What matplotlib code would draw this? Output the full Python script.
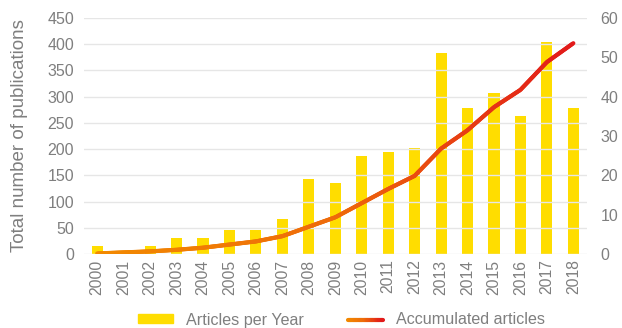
import numpy as np
import matplotlib
matplotlib.use("Agg")
import matplotlib.pyplot as plt
from matplotlib.collections import LineCollection
from matplotlib.colors import LinearSegmentedColormap
from matplotlib.legend_handler import HandlerBase
from matplotlib.lines import Line2D
from matplotlib.patches import Patch

plt.rcParams['font.family'] = ['Liberation Sans', 'DejaVu Sans']

years = ["2000", "2001", "2002", "2003", "2004", "2005", "2006", "2007", "2008", "2009",
         "2010", "2011", "2012", "2013", "2014", "2015", "2016", "2017", "2018"]
per_year = [2, 0, 2, 4, 4, 6, 6, 9, 19, 18, 25, 26, 27, 51, 37, 41, 35, 54, 37]
accumulated = [1, 3, 5, 8, 12, 18, 24, 34, 52, 70, 97, 124, 149, 201, 236, 280, 313, 366, 402]

grey = "#7f7f7f"
bar_color = "#ffdd00"
cmap = LinearSegmentedColormap.from_list("acc", ["#f28a00", "#ee6a0a", "#e21a1a"])


def gradient_segments(xs, ys):
    pts = np.array([xs, ys]).T.reshape(-1, 1, 2)
    return np.concatenate([pts[:-1], pts[1:]], axis=1)


def gradient_line(x, y, lw, n=400):
    xs = np.linspace(x[0], x[-1], n)
    ys = np.interp(xs, x, y)
    segs = gradient_segments(xs, ys)
    lc = LineCollection(segs, cmap=cmap, linewidth=lw, capstyle="round", joinstyle="round")
    lc.set_array(np.linspace(0, 1, len(segs)))
    return lc


class GradientHandler(HandlerBase):
    def create_artists(self, legend, orig_handle, xdescent, ydescent, width, height, fontsize, trans):
        xs = np.linspace(0, width, 30)
        segs = gradient_segments(xs, np.full_like(xs, height / 2))
        lc = LineCollection(segs, cmap=cmap, linewidth=3, capstyle="round", transform=trans)
        lc.set_array(np.linspace(0, 1, len(segs)))
        return [lc]


fig = plt.figure(figsize=(6.22, 3.28), dpi=100)
ax = fig.add_axes([0.135, 0.2256, 0.808, 0.7194])
ax2 = ax.twinx()

x = np.arange(len(years))

# bars use the right-hand scale, drawn underneath the line
ax.bar(x, per_year, width=0.42, color=bar_color, zorder=2)
ax.set_ylim(0, 60)
ax.set_yticks(range(0, 61, 10))
ax.yaxis.tick_right()
ax.set_xlim(-0.5, len(years) - 0.5)
ax.set_xticks(x)
ax.set_xticklabels(years, rotation=90)

# accumulated line on the left-hand scale
ax2.add_collection(gradient_line(x, accumulated, 3))
ax2.set_ylim(0, 450)
ax2.set_yticks(range(0, 451, 50))
ax2.yaxis.tick_left()
ax2.yaxis.set_label_position("left")
ax2.set_ylabel("Total number of publications", fontsize=13.5, color=grey, labelpad=14)
ax2.grid(axis="y", color="#e6e6e6", linewidth=1)
ax.set_zorder(0)
ax2.set_zorder(1)
ax2.patch.set_visible(False)

for a in (ax, ax2):
    for s in a.spines.values():
        s.set_visible(False)
    a.tick_params(length=0, colors=grey, labelsize=11.5)
ax.tick_params(axis="x", labelsize=11.3, pad=4)
ax.tick_params(axis="y", pad=10)
ax2.tick_params(axis="y", pad=7)

acc_handle = Line2D([], [])
fig.legend(handles=[Patch(color=bar_color), acc_handle],
           labels=["Articles per Year", "Accumulated articles"],
           handler_map={Line2D: GradientHandler()},
           loc="center", bbox_to_anchor=(0.549, 8 / 328), ncol=2, frameon=False,
           fontsize=11.6, handlelength=2.2, handleheight=0.5, handletextpad=0.8,
           columnspacing=2.7, labelcolor=grey)
fig.savefig("out.png", dpi=100)
